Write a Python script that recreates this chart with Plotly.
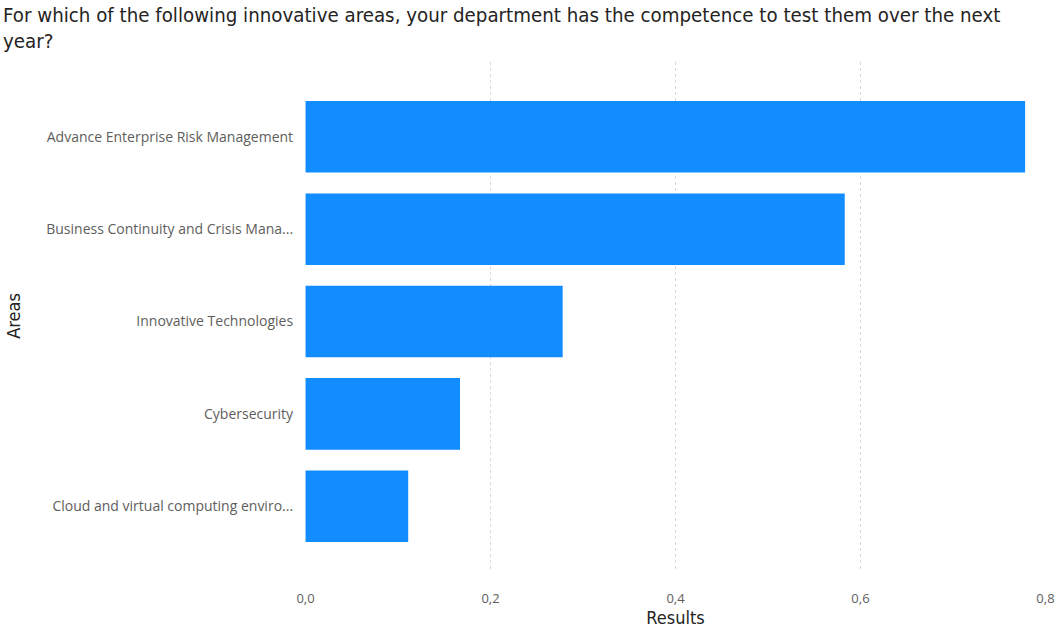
import plotly.graph_objects as go

# Share of respondents per innovative area
areas = [
    "Advance Enterprise Risk Management",
    "Business Continuity and Crisis Mana...",
    "Innovative Technologies",
    "Cybersecurity",
    "Cloud and virtual computing enviro...",
]
results = [0.778, 0.583, 0.278, 0.167, 0.111]

x_ticks = [0.0, 0.2, 0.4, 0.6, 0.8]

title_text = (
    "For which of the following innovative areas, your department has the "
    "competence to test them over the next<br>year?"
)

title_font = "DejaVu Sans Condensed, DejaVu Sans, sans-serif"
label_font = "Open Sans, Noto Sans, sans-serif"

W, H = 1057, 629
ML, MR, MT, MB = 305, 11, 62, 59
plot_w = W - ML - MR
plot_h = H - MT - MB

fig = go.Figure(
    go.Bar(
        x=results,
        y=areas,
        orientation="h",
        marker=dict(color="#118DFF", line=dict(width=0)),
        width=0.775,
    )
)

fig.add_annotation(
    text=title_text,
    xref="paper",
    yref="paper",
    x=-(ML - 1) / plot_w,
    y=1 + (MT - 1) / plot_h,
    xanchor="left",
    yanchor="top",
    align="left",
    showarrow=False,
    font=dict(family=title_font, size=20.3, color="#252423"),
)

fig.update_layout(
    width=W,
    height=H,
    margin=dict(l=ML, r=MR, t=MT, b=MB),
    paper_bgcolor="white",
    plot_bgcolor="white",
    separators=",.",
    showlegend=False,
    xaxis=dict(
        automargin=False,
        range=[-0.0006, 0.8006],
        tickvals=x_ticks,
        tickformat=".1f",
        showgrid=True,
        gridcolor="#D9D9D9",
        griddash="dot",
        gridwidth=1,
        zeroline=False,
        showline=False,
        ticks="outside",
        ticklen=16,
        tickcolor="rgba(0,0,0,0)",
        tickfont=dict(family=label_font, size=13, color="#605E5C"),
        title=dict(
            text="Results",
            font=dict(family=title_font, size=18, color="#252423"),
            standoff=4,
        ),
    ),
    yaxis=dict(
        automargin=False,
        categoryorder="array",
        categoryarray=areas,
        range=[4.69, -0.81],
        showgrid=False,
        zeroline=False,
        showline=False,
        ticks="",
        ticksuffix="   ",
        tickfont=dict(family=label_font, size=14, color="#605E5C"),
        title=dict(
            text="Areas",
            font=dict(family=title_font, size=18, color="#252423"),
            standoff=20,
        ),
    ),
)

fig.write_html("out.html")
